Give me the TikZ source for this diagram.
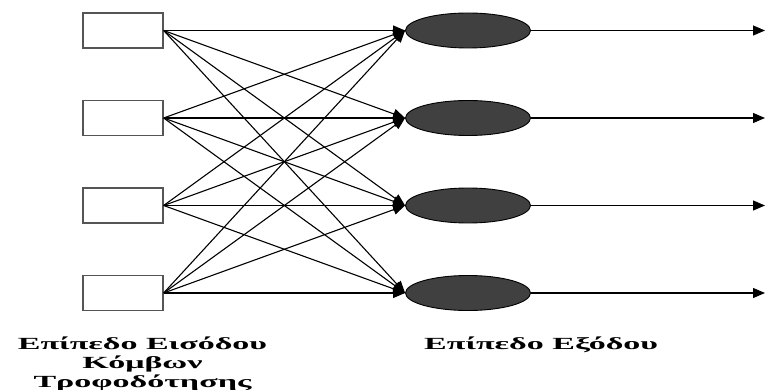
\documentclass[tikz,border=0pt]{standalone}
\usepackage{fontspec}
\usepackage{xcolor}
\usetikzlibrary{arrows.meta, shapes.geometric}

\newfontfamily\lblfont{Liberation Serif}[FakeStretch=2.0]
\definecolor{nodegray}{HTML}{404040}
\definecolor{boxgray}{HTML}{555555}

\begin{document}
\begin{tikzpicture}[x=1pt,y=-1pt,
		inbox/.style={draw=boxgray, line width=1.3pt, fill=white, minimum width=80pt, minimum height=35pt, inner sep=0pt},
		outnode/.style={ellipse, draw=black, line width=0.9pt, fill=nodegray, minimum width=125pt, minimum height=35pt, inner sep=0pt},
		link/.style={black, line width=1.1pt, -{Triangle[length=12pt,width=10pt]}},
		layertext/.style={font=\lblfont\bfseries\fontsize{17}{19}\selectfont, inner sep=0pt, align=center}]
	\useasboundingbox (0,0) rectangle (765,390);

	% input nodes
	\node[inbox] (in1) at (123,30.5) {};
	\node[inbox] (in2) at (123,118) {};
	\node[inbox] (in3) at (123,205.5) {};
	\node[inbox] (in4) at (123,293) {};

	% output nodes
	\node[outnode] (out1) at (468,30.5) {};
	\node[outnode] (out2) at (468,118) {};
	\node[outnode] (out3) at (468,205.5) {};
	\node[outnode] (out4) at (468,293) {};

	\coordinate (end1) at (765,30.5);
	\coordinate (end2) at (765,118);
	\coordinate (end3) at (765,205.5);
	\coordinate (end4) at (765,293);

	% weights
	\draw[link] (in1.east) -- (out1.west);
	\draw[link] (in1.east) -- (out2.west);
	\draw[link] (in1.east) -- (out3.west);
	\draw[link] (in1.east) -- (out4.west);
	\draw[link] (in2.east) -- (out1.west);
	\draw[link] (in2.east) -- (out2.west);
	\draw[link] (in2.east) -- (out3.west);
	\draw[link] (in2.east) -- (out4.west);
	\draw[link] (in3.east) -- (out1.west);
	\draw[link] (in3.east) -- (out2.west);
	\draw[link] (in3.east) -- (out3.west);
	\draw[link] (in3.east) -- (out4.west);
	\draw[link] (in4.east) -- (out1.west);
	\draw[link] (in4.east) -- (out2.west);
	\draw[link] (in4.east) -- (out3.west);
	\draw[link] (in4.east) -- (out4.west);

	% outputs
	\draw[link] (out1.east) -- (end1);
	\draw[link] (out2.east) -- (end2);
	\draw[link] (out3.east) -- (end3);
	\draw[link] (out4.east) -- (end4);

	\node[layertext, anchor=north] (inlabel) at (142.5,337) {Επίπεδο Εισόδου\\Κόμβων\\Τροφοδότησης};
	\node[layertext, anchor=north west] (outlabel) at (424,337) {Επίπεδο Εξόδου};
\end{tikzpicture}
\end{document}
